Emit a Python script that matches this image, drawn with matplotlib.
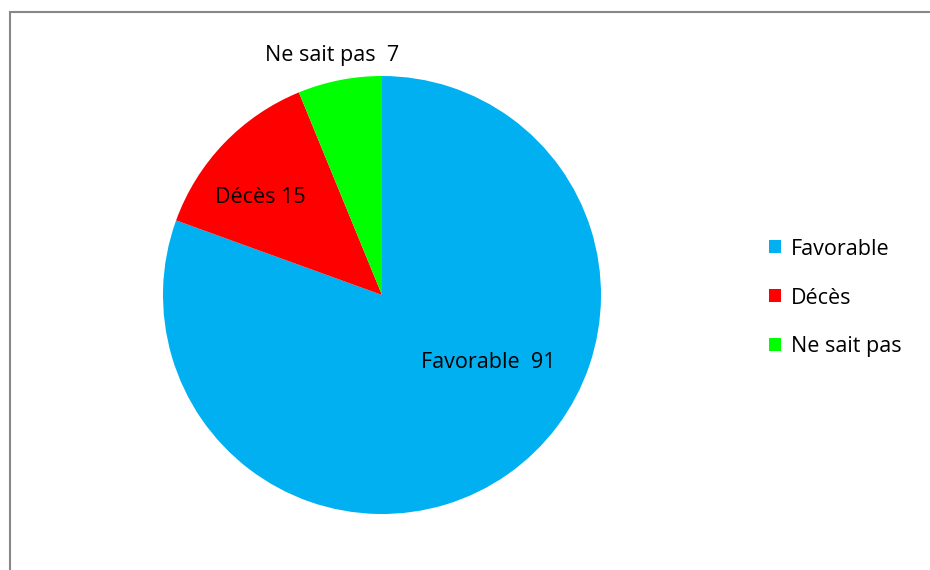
import matplotlib
matplotlib.use("Agg")
import matplotlib.pyplot as plt
from matplotlib.patches import Patch, Rectangle

categories = ["Favorable", "Décès", "Ne sait pas"]
values = [91, 15, 7]
colors = ["#00B0F0", "#FF0000", "#00FF00"]
label_texts = ["Favorable  91", "Décès 15", "Ne sait pas  7"]

plt.rcParams['font.family'] = ['Open Sans', 'DejaVu Sans']

W, H = 930, 570
fig = plt.figure(figsize=(W / 100, H / 100), dpi=100)

cx, cy, r = 382, 295, 219
ax = fig.add_axes([(cx - r) / W, (H - cy - r) / H, 2 * r / W, 2 * r / H])
wedges, _ = ax.pie(values, colors=colors, startangle=90, counterclock=False,
                   radius=1, wedgeprops=dict(linewidth=0))
ax.set_xlim(-1, 1)
ax.set_ylim(-1, 1)
ax.axis('off')

FS = 15.5
label_pos = [(0.484, -0.309), (-0.557, 0.445), (-0.228, 1.095)]
for (x, y), t in zip(label_pos, label_texts):
    ax.text(x, y, t, ha='center', va='center', fontsize=FS, color='black', clip_on=False)

handles = [Patch(facecolor=c, edgecolor='none') for c in colors]
fig.legend(handles, categories, loc='center left', bbox_to_anchor=(769 / W, 1 - 298 / H),
           frameon=False, fontsize=FS, handlelength=0.55, handleheight=0.55,
           handletextpad=0.45, labelspacing=1.3, borderpad=0, borderaxespad=0)

fig.patches.append(Rectangle((9.5 / W, -0.1), 1.2, 1 - 12 / H + 0.1, transform=fig.transFigure,
                             fill=False, edgecolor='#888888', linewidth=1.5))

fig.savefig("out.png", dpi=100)
